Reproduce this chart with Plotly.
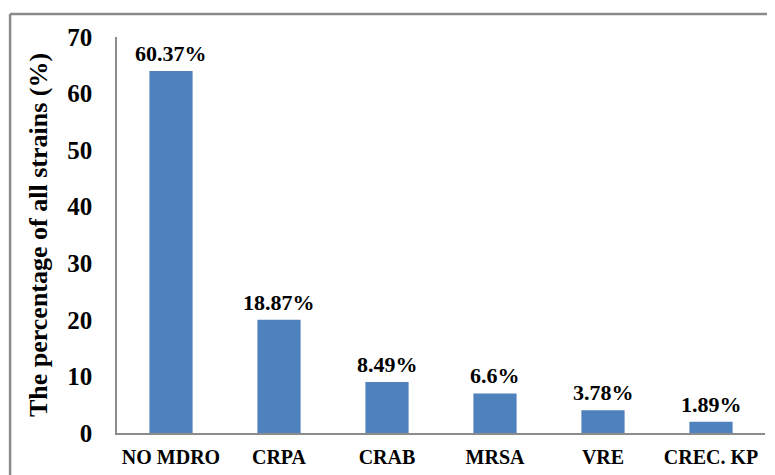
import plotly.graph_objects as go

categories = ["NO MDRO", "CRPA", "CRAB", "MRSA", "VRE", "CREC. KP"]
counts = [64, 20, 9, 7, 4, 2]
labels = ["60.37%", "18.87%", "8.49%", "6.6%", "3.78%", "1.89%"]
yticks = [0, 10, 20, 30, 40, 50, 60, 70]

FONT = "Liberation Serif"

fig = go.Figure(go.Bar(x=categories, y=counts, marker_color="#4F81BD",
                       marker_line_width=0, width=0.4))

for c, v, t in zip(categories, counts, labels):
    fig.add_annotation(x=c, y=v, text="<b>%s</b>" % t, showarrow=False,
                       yanchor="bottom", yshift=3,
                       font=dict(family=FONT, size=22, color="black"))

fig.update_layout(
    width=775, height=475,
    margin=dict(l=109, r=18, t=29, b=50),
    plot_bgcolor="white", paper_bgcolor="white",
    showlegend=False,
    font=dict(family=FONT, color="black"),
    xaxis=dict(showline=True, linecolor="#8c8c8c", linewidth=1.5,
               showgrid=False, ticks="", tickfont=dict(family=FONT, size=20),
               ticklabelstandoff=5,
               tickvals=categories, ticktext=["<b>%s</b>" % c for c in categories]),
    yaxis=dict(range=[0, 70], showline=True, linecolor="#8c8c8c", linewidth=1.5,
               showgrid=False, zeroline=False, ticks="",
               tickvals=yticks, ticktext=["<b>%d</b>" % v for v in yticks],
               tickfont=dict(family=FONT, size=25), ticklabelstandoff=18,
               title=dict(text="<b>The percentage of all strains (%)</b>",
                          font=dict(family=FONT, size=26), standoff=12)),
    bargap=0.6,
)

# outer frame (top and left edges)
fig.add_shape(type="line", xref="paper", yref="paper", x0=-0.165, x1=1.1,
              y0=1.058, y1=1.058, line=dict(color="#8a8a8a", width=2.5))
fig.add_shape(type="line", xref="paper", yref="paper", x0=-0.165, x1=-0.165,
              y0=1.058, y1=-0.2, line=dict(color="#8a8a8a", width=2.5))

fig.write_html("out.html")
